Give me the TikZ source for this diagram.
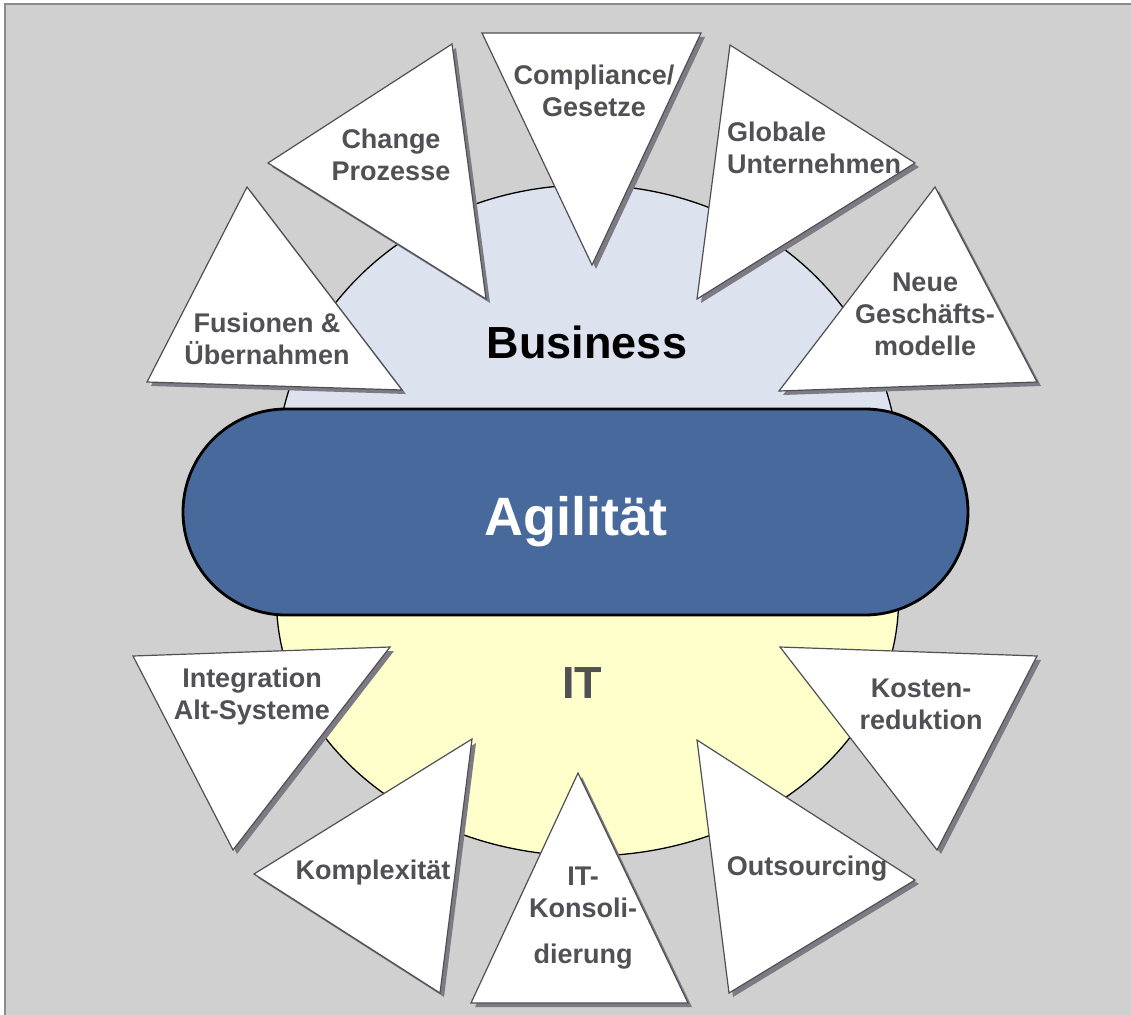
\documentclass[tikz,border=0pt]{standalone}
\usepackage{fontspec}
\setmainfont{Liberation Sans}
\definecolor{panelgray}{HTML}{D0D0D0}
\definecolor{panelline}{HTML}{8A8A8A}
\definecolor{businessblue}{HTML}{DCE3EF}
\definecolor{ityellow}{HTML}{FFFFCC}
\definecolor{agilblue}{HTML}{48699C}
\definecolor{vaneline}{HTML}{4F4F55}
\definecolor{vaneshade}{HTML}{7D7A84}
\definecolor{labelgray}{HTML}{505055}
\tikzset{
  vane/.style={draw=vaneline,fill=white,line width=1.2pt,line join=miter},
  vaneshadow/.style={fill=vaneshade,shift={(4,4)}},
  vanelabel/.style={text=labelgray,font=\fontsize{27}{32}\selectfont\bfseries,align=center,inner sep=0pt},
  pill/.style={draw=black,line width=2.8pt,fill=agilblue,rounded corners=103pt,minimum width=785pt,minimum height=206pt},
}
\newcommand{\vane}[3]{%
  \fill[vaneshadow] #1 -- #2 -- #3 -- cycle;
  \draw[vane] #1 -- #2 -- #3 -- cycle;}
\begin{document}
\begin{tikzpicture}[x=1pt,y=-1pt]
\clip (0,0) rectangle (1131,1014);
%% panel
\fill[white] (0,0) rectangle (1131,1014);
\draw[panelline,fill=panelgray,line width=1.5pt] (5,4) rectangle (1140,1024);
%% business / it disc
\fill[businessblue] (276.5,470) arc[start angle=180,end angle=0,x radius=311pt,y radius=285pt] -- (898.5,512) -- (276.5,512) -- cycle;
\fill[ityellow] (276.5,512) -- (898.5,512) -- (898.5,600) arc[start angle=0,end angle=-180,x radius=311pt,y radius=256pt] -- cycle;
\draw[black,line width=1.3pt] (276.5,470) arc[start angle=180,end angle=0,x radius=311pt,y radius=285pt] -- (898.5,600) arc[start angle=0,end angle=-180,x radius=311pt,y radius=256pt] -- cycle;
%% agility bar
\node[pill] (bar) at (575.5,512) {};
%% vanes
\vane{(247,187)}{(147,382)}{(402,390)}
\vane{(268,163)}{(452,44)}{(486,299)}
\vane{(482,33)}{(701,33)}{(592,265)}
\vane{(730,45)}{(915,163)}{(697,299)}
\vane{(935,187)}{(1037,382)}{(779,391)}
\vane{(133,656)}{(390,647)}{(233,850)}
\vane{(472,739)}{(254,874)}{(440,993)}
\vane{(578,773)}{(688,1003)}{(471,1003)}
\vane{(697,740)}{(915,880)}{(729,993)}
\vane{(780,647)}{(1037,656)}{(937,850)}
%% labels
\node (business) at (587,342) [font=\fontsize{45}{50}\selectfont\bfseries,text=black] {Business};
\node (agility) at (576,516) [font=\fontsize{54}{60}\selectfont\bfseries,text=white,text depth=0pt] {Agilität};
\node (it) at (582,683) [font=\fontsize{45}{50}\selectfont\bfseries,text=labelgray] {IT};
\node (mergers) at (267,339) [vanelabel] {Fusionen \&\\Übernahmen};
\node (change) at (391,155) [vanelabel] {Change\\Prozesse};
\node (compliance) at (594,91) [vanelabel] {Compliance/\\Gesetze};
\node (global) at (727,148) [vanelabel,anchor=west,align=left] {Globale\\Unternehmen};
\node (models) at (925,314) [vanelabel] {Neue\\Geschäfts-\\modelle};
\node (legacy) at (252,697) [vanelabel] {Integration\\Alt-Systeme};
\node (complexity) at (373,873) [vanelabel] {Komplexität};
\node (consolidation) at (583,918) [vanelabel] {IT-\\Konsoli-\\[14pt]dierung};
\node (outsourcing) at (807,869) [vanelabel] {Outsourcing};
\node (costs) at (921,704) [vanelabel] {Kosten-\\reduktion};
%
\end{tikzpicture}
\end{document}
